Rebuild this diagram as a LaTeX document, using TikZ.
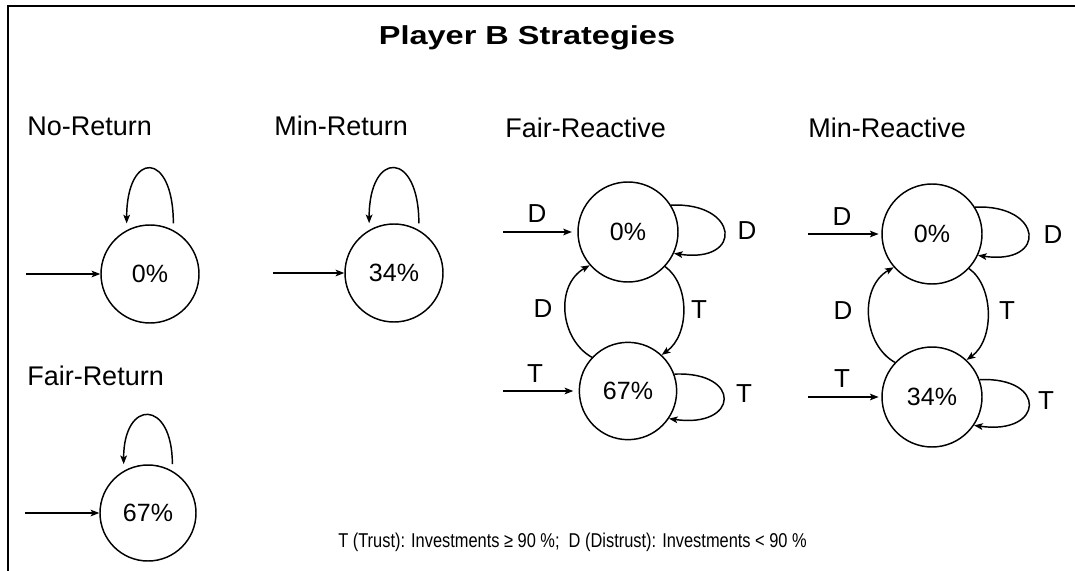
\documentclass[tikz,border=0pt]{standalone}
\usepackage{fontspec}
\setmainfont{Liberation Sans}
\usetikzlibrary{arrows.meta}
\begin{document}
\begin{tikzpicture}[x=0.75pt,y=-0.75pt,
  state/.style={circle,draw,line width=1.1pt,minimum size=73.5pt,inner sep=0pt,
                font=\fontsize{18.75}{20}\selectfont},
  edge/.style={line width=1.1pt,-{Stealth[length=6.5pt,width=5pt,inset=1.5pt]}},
  heading/.style={anchor=base west,inner sep=0pt,font=\fontsize{20.25}{22}\selectfont},
  lbl/.style={inner sep=0pt,font=\fontsize{19.5}{20}\selectfont},
  loopend/.style={shorten <=5pt,shorten >=5pt},
]
\useasboundingbox (0,0) rectangle (1075,571);

% frame
\draw[line width=1.5pt] (1075,6) -- (8,6) -- (8,571);

% title
\node[anchor=base,inner sep=0pt,font=\bfseries\fontsize{19.5}{22}\selectfont] (title)
  at (527,44) {\scalebox{1.25}[1]{Player B Strategies}};

% headings
\node[heading] (hNR) at (27,135) {No-Return};
\node[heading] (hMR) at (274,135) {Min-Return};
\node[heading] (hFR) at (505,137) {Fair-Reactive};
\node[heading] (hMRe) at (808,137) {Min-Reactive};
\node[heading] (hFRet) at (27,385) {Fair-Return};

% ---- single-state strategies ----
\node[state] (nr) at (150,274) {0\%};
\coordinate (nrIn) at (26,274);
\draw[edge] (nrIn) -- (nr);
\draw[edge,loopend] (nr.62) .. controls +(0,-80) and +(0,-80) .. (nr.118);

\node[state] (mr) at (394,273) {34\%};
\coordinate (mrIn) at (273,273);
\draw[edge] (mrIn) -- (mr);
\draw[edge,loopend] (mr.60) .. controls +(0,-80) and +(0,-80) .. (mr.120);

\node[state,minimum size=72pt] (fret) at (148,513) {67\%};
\coordinate (fretIn) at (25,513);
\draw[edge] (fretIn) -- (fret);
\draw[edge,loopend] (fret.60) .. controls +(0,-72) and +(0,-72) .. (fret.120);

% ---- Fair-Reactive ----
\node[state,minimum size=75pt] (frD) at (628,232) {0\%};
\node[state,minimum size=73pt] (frT) at (628,391) {67\%};
\coordinate (frDIn) at (503,232);
\coordinate (frTIn) at (503,391);
\draw[edge,shorten >=4pt] (frDIn) -- (frD);
\draw[edge,shorten >=4pt] (frTIn) -- (frT);
\node[lbl] (frLin1) at (537,214) {D};
\node[lbl] (frLin2) at (535,374) {T};
\draw[edge] (frD.32) .. controls +(68,-3) and +(70,10) .. (frD.-25);
\draw[edge] (frT.20) .. controls +(68,-3) and +(70,10) .. (frT.-34);
\node[lbl] (frLl1) at (747,231) {D};
\node[lbl] (frLl2) at (744,394) {T};
\draw[edge] (frT.137) .. controls +(-32,-18) and +(-35,20) .. (frD.221);
\draw[edge] (frD.-43) .. controls +(25,18) and +(28,-20) .. (frT.47);
\node[lbl] (frLa1) at (543,309) {D};
\node[lbl] (frLa2) at (699,310) {T};

% ---- Min-Reactive ----
\node[state,minimum size=75pt] (mrD) at (932,234) {0\%};
\node[state,minimum size=75pt] (mrT) at (932,397) {34\%};
\coordinate (mrDIn) at (808,234);
\coordinate (mrTIn) at (808,397);
\draw[edge,shorten >=2pt] (mrDIn) -- (mrD);
\draw[edge,shorten >=2pt] (mrTIn) -- (mrT);
\node[lbl] (mrLin1) at (842,217) {D};
\node[lbl] (mrLin2) at (842,379) {T};
\draw[edge] (mrD.32) .. controls +(68,-3) and +(70,10) .. (mrD.-25);
\draw[edge] (mrT.20) .. controls +(68,-3) and +(70,10) .. (mrT.-34);
\node[lbl] (mrLl1) at (1053,235) {D};
\node[lbl] (mrLl2) at (1046,401) {T};
\draw[edge] (mrT.137) .. controls +(-32,-18) and +(-35,20) .. (mrD.221);
\draw[edge] (mrD.-43) .. controls +(25,18) and +(28,-20) .. (mrT.47);
\node[lbl] (mrLa1) at (843,311) {D};
\node[lbl] (mrLa2) at (1007,311) {T};

% legend
\node[anchor=base west,inner sep=0pt,font=\fontsize{15}{17}\selectfont] (legend) at (338,547)
  {\scalebox{0.82}[1]{T (Trust): Investments ≥ 90 \%;\ \ D (Distrust): Investments < 90 \%}};
\end{tikzpicture}
\end{document}
